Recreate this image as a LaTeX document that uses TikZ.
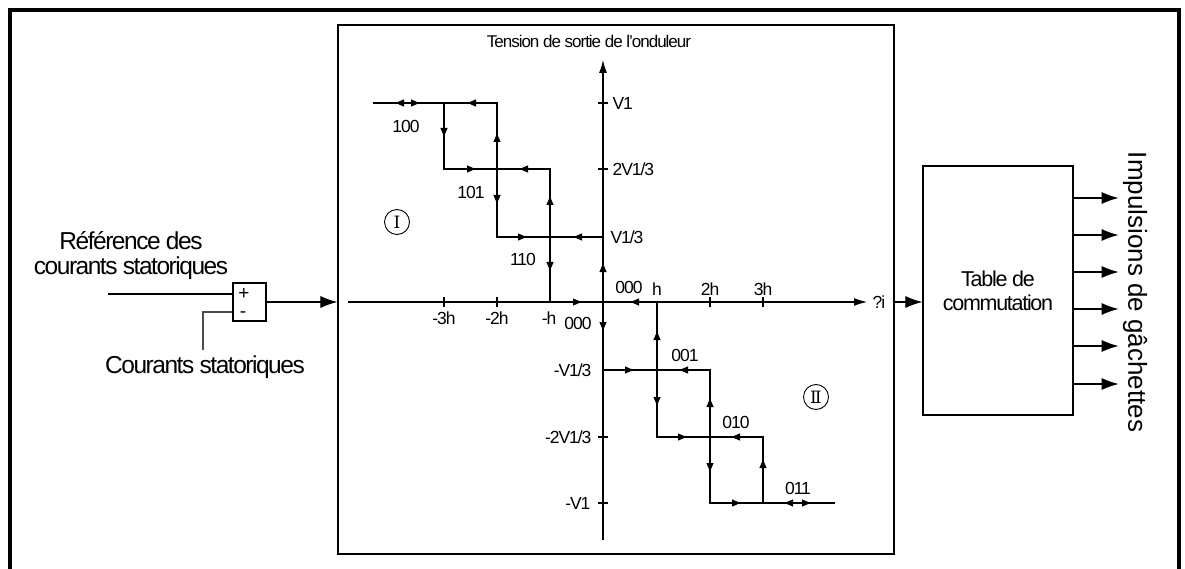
\documentclass[tikz,border=0pt]{standalone}
\usepackage{fontspec}
\setmainfont[LetterSpace=-6]{Liberation Sans}
\newfontfamily\normal{Liberation Sans}
\newfontfamily\romain{DejaVu Serif}
\usetikzlibrary{arrows.meta}

\begin{document}
\begin{tikzpicture}[x=1pt, y=-1pt, >={Latex[length=10pt,width=7.5pt]}, line width=1.1pt,
  bloc/.style={draw, line width=1.2pt, inner sep=0pt},
  fleche/.style={-{Latex[length=17pt,width=12pt]}},
  grand/.style={font=\fontsize{24.5}{25}\selectfont, inner sep=0pt},
  petit/.style={font=\fontsize{17.5}{18}\selectfont, inner sep=0pt},
  signe/.style={font=\normal\fontsize{19}{19}\selectfont, inner sep=0pt,
    text height=7pt, text depth=0pt},
  zone/.style={draw, circle, line width=0.9pt, minimum size=25pt, inner sep=0pt,
    font=\romain\fontsize{17}{17}\selectfont}]
\useasboundingbox (0,0) rectangle (1185,569);
% Cadre
\draw[line width=3.5pt] (10,569) -- (10,10) -- (1179,10) -- (1179,569);
\node[bloc, minimum width=556, minimum height=529] (cadre) at (616,289.5) {};
% Comparateur
\node[bloc, minimum width=33, minimum height=38] (som) at (249.5,302) {};
\node[signe] (plus) at (244,296) {+};
\node[signe] (moins) at (243,313.5) {-};
\node[grand, align=center] (ref) at (131,256) {Référence des\\courants statoriques};
\node[grand] (mes) at (205,367) {Courants statoriques};
\coordinate (e1) at (108,294);
\coordinate (e2) at (203,350);
\draw (e1) -- (e1 -| som.west);
\draw[gray!60!black] (e2) |- (som.west |- 0,312);
\draw[fleche] (som.east) -- (som.east -| cadre.west);
% Axes
\coordinate (O) at (603,302);
\draw[->, >={Latex[length=13pt,width=8pt]}] (348,302) -- (867,302);
\draw[->, >={Latex[length=13pt,width=8pt]}] (603,540) -- (603,60);
\node[font=\fontsize{17}{18}\selectfont] (tension) at (589,41) {Tension de sortie de l’onduleur};
\node[petit, anchor=west] (di) at (872,302) {?i};
\foreach \x in {444,497,710,763} \draw (\x,297) -- (\x,307);
\foreach \y in {103,169,437,503} \draw (598,\y) -- (608,\y);
% Graduations
\node[petit, anchor=west] (v1) at (612,103) {V1};
\node[petit, anchor=west] (v2) at (612,169) {2V1/3};
\node[petit, anchor=west] (v3) at (610,237) {V1/3};
\node[petit, anchor=east] (mv3) at (592,370) {-V1/3};
\node[petit, anchor=east] (mv2) at (592,437) {-2V1/3};
\node[petit, anchor=east] (mv1) at (591,503) {-V1};
\node[petit] (m3h) at (444,318) {-3h};
\node[petit] (m2h) at (497,318) {-2h};
\node[petit] (mh) at (549,318) {-h};
\node[petit] (z1) at (578,323) {000};
\node[petit] (z2) at (629,287) {000};
\node[petit] (h1) at (657,289) {h};
\node[petit] (h2) at (710,289) {2h};
\node[petit] (h3) at (763,289) {3h};
% Cycle I
\draw (373,103) -- (497,103) -- (497,237) -- (603,237);
\draw (444,103) -- (444,169) -- (550,169) -- (550,302);
\foreach \a/\b in {{405,103}/{394,103}, {410,103}/{421,103}, {477,103}/{466,103},
  {444,127}/{444,138}, {497,143}/{497,132}, {497,194}/{497,205},
  {466,169}/{477,169}, {529,169}/{518,169}, {550,206}/{550,195},
  {550,261}/{550,272}, {517,237}/{528,237}, {583,237}/{572,237},
  {572,302}/{583,302}, {603,273}/{603,262}, {640,302}/{629,302}}
  \draw[->] (\a) -- (\b);
\node[petit] (c100) at (406,126) {100};
\node[petit] (c101) at (471,192) {101};
\node[petit] (c110) at (523,259) {110};
\node[zone] (zI) at (397,222) {Ⅰ};
% Cycle II
\draw (603,370) -- (710,370) -- (710,503) -- (835,503);
\draw (657,302) -- (657,437) -- (763,437) -- (763,503);
\foreach \a/\b in {{603,321}/{603,332}, {624,370}/{635,370}, {689,370}/{678,370},
  {657,341}/{657,330}, {657,396}/{657,407}, {677,437}/{688,437},
  {741,437}/{730,437}, {710,408}/{710,397}, {710,462}/{710,473},
  {731,503}/{742,503}, {794,503}/{783,503}, {801,503}/{812,503},
  {763,469}/{763,458}}
  \draw[->] (\a) -- (\b);
\node[petit] (c001) at (685,355) {001};
\node[petit] (c010) at (736,422) {010};
\node[petit] (c011) at (798,488) {011};
\node[zone] (zII) at (816,397) {Ⅱ};
% Table de commutation
\node[bloc, minimum width=150, minimum height=249, align=center,
  font=\fontsize{21.5}{24}\selectfont] (tab) at (998,290.5) {Table de\\commutation};
\draw[fleche] (O -| cadre.east) -- (O -| tab.west);
\foreach \y in {198,235,272,309,346,384}
  \draw[fleche] (tab.east |- 0,\y) -- ++(45,0);
\node[rotate=-90, font=\normal\fontsize{26}{30}\selectfont] (imp) at (1135,292) {Impulsions de gâchettes};
\end{tikzpicture}
\end{document}
